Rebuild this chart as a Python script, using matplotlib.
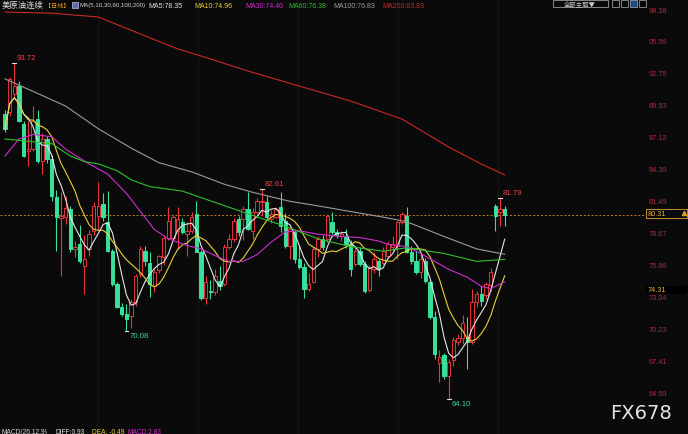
import matplotlib
matplotlib.use("Agg")
import matplotlib.pyplot as plt
import matplotlib.transforms as mtransforms
from matplotlib.patches import Rectangle
import pandas as pd

# daily candles (open, high, low, close), oldest first
opens = [89.2, 89.4, 91.0, 91.7, 88.3, 85.9, 86.1, 88.8, 85.1, 87.0,
         85.2, 81.9, 80.0, 80.1, 80.8, 77.3, 77.7, 75.8, 77.3, 78.9,
         80.2, 81.3, 79.7, 77.1, 74.2, 72.2, 71.6, 71.4, 72.6, 75.1,
         77.1, 76.1, 74.0, 75.4, 76.6, 78.3, 78.3, 78.9, 79.7, 78.6,
         78.9, 80.4, 77.0, 73.0, 73.6, 73.5, 74.5, 74.2, 77.5, 78.2,
         79.9, 79.9, 80.8, 78.9, 80.6, 81.4, 81.4, 79.9, 80.1, 81.0,
         79.8, 77.6, 78.8, 76.4, 75.7, 73.8, 74.4, 77.3, 78.2, 78.2,
         79.7, 78.8, 78.4, 78.4, 77.7, 76.0, 77.1, 76.0, 73.7, 75.5,
         76.2, 76.1, 76.7, 77.5, 77.6, 79.7, 80.2, 77.0, 76.2, 75.3,
         76.2, 74.4, 71.3, 67.2, 67.9, 66.1, 67.5, 69.1, 69.4, 69.5,
         69.1, 72.6, 73.3, 73.2, 74.1, 81.1, 80.6, 80.8]
highs = [89.6, 92.5, 93.72, 92.1, 88.6, 88.6, 89.9, 89.6, 87.5, 87.3,
         85.6, 82.5, 82.3, 82.0, 81.1, 78.0, 79.4, 78.5, 79.0, 81.4,
         83.2, 82.2, 82.4, 77.3, 74.4, 72.5, 72.4, 72.9, 75.1, 77.6,
         77.6, 77.0, 75.5, 76.8, 78.5, 81.0, 80.3, 81.0, 80.0, 79.7,
         80.6, 81.5, 77.2, 74.9, 74.6, 75.5, 75.8, 77.7, 78.6, 80.0,
         80.2, 81.1, 82.3, 80.9, 81.8, 82.61, 82.0, 80.7, 81.0, 82.3,
         80.5, 79.3, 79.0, 77.6, 76.1, 75.2, 77.5, 78.4, 78.5, 80.4,
         80.6, 79.1, 78.9, 79.1, 78.1, 77.6, 77.5, 76.2, 75.9, 77.0,
         76.4, 77.5, 78.0, 78.4, 79.8, 80.6, 81.0, 77.6, 77.2, 76.9,
         76.5, 74.6, 71.8, 68.4, 68.1, 67.6, 69.5, 69.8, 71.5, 71.3,
         73.8, 73.6, 74.0, 74.4, 75.6, 81.3, 81.79, 81.1]
lows = [87.6, 89.0, 90.6, 88.5, 85.4, 84.6, 85.9, 84.9, 83.9, 84.9,
        81.5, 77.1, 74.9, 79.5, 77.0, 76.6, 76.1, 73.3, 76.7, 78.5,
        79.0, 79.8, 77.0, 74.0, 72.1, 71.4, 70.08, 70.3, 72.3, 74.8,
        75.8, 73.1, 73.5, 75.2, 75.9, 78.1, 78.1, 77.3, 78.6, 76.7,
        78.7, 77.0, 72.8, 72.4, 72.9, 73.2, 73.7, 74.0, 77.3, 77.9,
        78.4, 78.1, 79.0, 78.2, 80.4, 80.2, 79.9, 79.6, 80.0, 78.8,
        77.4, 76.4, 76.1, 75.5, 73.0, 73.6, 74.3, 76.6, 77.2, 77.9,
        78.6, 78.3, 78.0, 77.4, 74.9, 75.8, 75.8, 73.4, 73.5, 75.2,
        74.9, 75.9, 76.5, 77.1, 76.4, 79.5, 76.9, 76.0, 75.1, 74.7,
        74.3, 71.1, 67.6, 65.6, 65.8, 64.10, 67.0, 68.8, 68.9, 66.7,
        68.9, 72.2, 72.3, 72.9, 73.6, 78.9, 79.3, 79.3]
closes = [87.9, 92.3, 91.7, 88.6, 85.5, 86.1, 88.6, 85.1, 87.0, 85.2,
          82.0, 80.1, 80.2, 80.9, 77.3, 77.5, 76.2, 76.4, 78.6, 81.1,
          81.1, 80.1, 77.1, 74.2, 72.2, 71.6, 71.1, 72.6, 74.9, 77.3,
          76.2, 74.2, 75.3, 76.7, 78.3, 79.8, 80.1, 79.9, 78.8, 78.9,
          80.1, 77.0, 73.0, 74.4, 73.5, 74.9, 74.0, 77.5, 78.2, 79.8,
          78.8, 80.8, 79.1, 80.6, 81.5, 81.5, 80.1, 80.4, 80.8, 79.3,
          77.6, 79.1, 76.4, 75.7, 73.8, 74.2, 77.3, 78.2, 77.5, 80.2,
          78.8, 78.5, 78.6, 77.7, 75.5, 77.1, 76.0, 73.6, 75.6, 76.4,
          75.5, 77.1, 77.7, 77.7, 79.7, 80.4, 77.0, 76.2, 75.3, 76.4,
          74.5, 71.3, 68.0, 67.8, 66.1, 67.3, 69.3, 69.4, 70.8, 69.1,
          72.6, 73.3, 72.7, 74.2, 75.3, 80.2, 80.8, 80.31]

# longer moving averages (candle index, value)
ma30_idx = [0, 3, 6, 10, 13, 18, 22, 26, 29, 32, 35, 39, 42, 45, 48, 51, 54,
            57, 60, 63, 67, 72, 76, 80, 82, 86, 89, 92, 95, 99, 102, 104, 107]
ma30_val = [85.5, 87.0, 87.4, 87.2, 86.1, 84.8, 83.9, 82.2, 80.6, 79.0, 78.2,
            77.6, 77.3, 76.7, 76.2, 76.2, 76.8, 77.9, 78.8, 78.9, 78.6, 78.4,
            78.3, 78.0, 77.7, 77.5, 76.9, 76.2, 75.5, 74.8, 74.0, 73.8, 74.4]
ma60_idx = [0, 5, 10, 14, 17, 20, 24, 27, 31, 38, 45, 52, 60, 67, 74, 81,
            86, 94, 101, 107]
ma60_val = [87.0, 86.8, 86.6, 85.5, 85.0, 84.8, 84.2, 83.4, 82.8, 82.4, 81.4,
            80.4, 79.3, 78.2, 77.5, 77.1, 77.4, 76.9, 76.2, 76.38]
ma100_idx = [0, 6, 13, 20, 27, 33, 40, 47, 53, 61, 67, 74, 81, 86, 94, 101, 107]
ma100_val = [92.3, 91.2, 89.9, 87.9, 86.2, 84.9, 84.1, 83.0, 82.3, 81.5, 81.1,
             80.6, 80.1, 79.7, 78.4, 77.3, 76.83]
ma200_idx = [0, 10, 20, 29, 37, 42, 52, 63, 74, 85, 95, 102, 107]
ma200_val = [98.2, 98.1, 97.76, 96.26, 94.94, 94.32, 93.0, 91.67, 90.35,
             88.76, 86.29, 84.79, 83.83]

price_ticks = ["98.38", "95.56", "92.75", "89.93", "87.12", "84.30", "81.49",
               "78.67", "75.86", "73.04", "70.23", "67.41", "64.50"]
last_price = 80.31
cross_price = 74.31
high_marks = [(2, 93.72), (55, 82.61), (106, 81.79)]
low_marks = [(26, 70.08), (95, 64.10)]

legend_items = [("MA5:78.35", "#e6e6e6"), ("MA10:74.96", "#e8d038"),
                ("MA30:74.40", "#d02cd0"), ("MA60:76.38", "#2ec02e"),
                ("MA100:76.83", "#9a9a9a"), ("MA200:83.83", "#c82828")]

BG = "#0a0a0a"
UP = "#e8343c"
DOWN = "#38e09c"
W, H = 688, 435
FONT = ["Liberation Sans", "Noto Sans CJK SC", "DejaVu Sans"]
plt.rcParams["font.family"] = FONT

fig = plt.figure(figsize=(W / 100, H / 100), dpi=100, facecolor=BG)
ax = fig.add_axes([0, 0, 1, 1], facecolor=BG)
ax.set_axis_off()

# pixel layout: candle 0 at x=5px, step 4.67px; 98.38 at y=11px, 64.50 at y=395px
step = 4.67
ppu = 384 / (98.38 - 64.50)
ax.set_xlim(-5 / step, (W - 5) / step)
ax.set_ylim(98.38 - (H - 11) / ppu, 98.38 + 11 / ppu)

def px(x, y):
    return x / W, 1 - y / H

# faint vertical grid
for gx in [98, 198, 298, 398, 498]:
    ax.axvline((gx - 5) / step, color="#161616", lw=0.6, zorder=0)

# candles
bw = 0.72
for i in range(len(closes)):
    o, h, l, c = opens[i], highs[i], lows[i], closes[i]
    col = UP if c >= o else DOWN
    ax.vlines(i, l, h, color=col, lw=0.8, zorder=2)
    lo, hi = min(o, c), max(o, c)
    if hi - lo < 0.06:
        hi = lo + 0.06
    face = BG if c >= o else DOWN
    ax.add_patch(Rectangle((i - bw / 2, lo), bw, hi - lo, facecolor=face,
                           edgecolor=col, lw=0.7, zorder=3))

# moving averages
s = pd.Series(closes)
ma5 = s.rolling(5, min_periods=1).mean()
ma10 = s.rolling(10, min_periods=1).mean()
ax.plot(range(len(closes)), ma5, color=legend_items[0][1], lw=0.8, zorder=4)
ax.plot(range(len(closes)), ma10, color=legend_items[1][1], lw=0.8, zorder=4)
ax.plot(ma30_idx, ma30_val, color=legend_items[2][1], lw=0.8, zorder=4)
ax.plot(ma60_idx, ma60_val, color=legend_items[3][1], lw=0.8, zorder=4)
ax.plot(ma100_idx, ma100_val, color=legend_items[4][1], lw=0.8, zorder=4)
ax.plot(ma200_idx, ma200_val, color=legend_items[5][1], lw=0.8, zorder=4)

# last price dashed line
ax.axhline(last_price, xmin=0, xmax=645 / W, color="#c87a22", lw=0.7,
           ls=(0, (2, 2)), zorder=1)

# high / low markers
for i, v in high_marks:
    ax.plot([i - 0.4, i + 0.4], [v, v], color="#dddddd", lw=0.8, zorder=5)
    ax.text(i + 0.5, v + 0.15, f"{v:.2f}", color="#e8404c", fontsize=5.6,
            ha="left", va="bottom", zorder=6)
for i, v in low_marks:
    ax.plot([i - 0.4, i + 0.4], [v, v], color="#dddddd", lw=0.8, zorder=5)
    ax.text(i + 0.7, v - 0.1, f"{v:.2f}", color="#3ad89a", fontsize=5.6,
            ha="left", va="top", zorder=6)

# right price axis
trans = mtransforms.blended_transform_factory(ax.transAxes, ax.transData)
for lab in price_ticks:
    ax.text(649 / W, float(lab), lab, color="#a82c3c", fontsize=5.3,
            ha="left", va="center", transform=trans)
ax.add_patch(Rectangle((646 / W, last_price - 0.3), 41 / W, 9 / ppu,
                       transform=trans, fc=BG, ec="#c8902c", lw=0.7, zorder=6))
ax.text(648 / W, last_price + 0.1, f"{last_price:.2f}", color="#e0a848",
        fontsize=5.3, ha="left", va="center", transform=trans, zorder=7)
ax.add_patch(Rectangle((646 / W, cross_price - 0.95), 41 / W, 8 / ppu,
                       transform=trans, fc="#000000", ec="none", zorder=6))
ax.text(648 / W, cross_price - 0.6, f"{cross_price:.2f}", color="#e8b040",
        fontsize=5.3, ha="left", va="center", transform=trans, zorder=7)
ax.plot([684 / W], [last_price + 0.2], marker="^", ms=3, color="#e0a020",
        transform=trans, clip_on=False, zorder=8)

# title line
fig.text(*px(2, 6), "美原油连续", color="#e0e0e0", fontsize=6.0, va="center")
fig.text(*px(45, 6), "【日线】", color="#e8a020", fontsize=4.4, va="center")
fig.patches.append(Rectangle(px(72, 9), 6 / W, 6 / H, transform=fig.transFigure,
                             fc="#6a6ab0", ec="#c0c0e0", lw=0.5))
fig.text(*px(80, 6), "MA(5,10,30,60,100,200)", color="#d0d0d0", fontsize=4.4,
         va="center")
lx = [148, 194, 245, 288, 333, 382]
for (txt, col), x in zip(legend_items, lx):
    fig.text(*px(x, 6), txt, color=col, fontsize=5.0, va="center")

# toolbar at top right
fig.patches.append(Rectangle(px(553, 8), 55 / W, 7 / H, transform=fig.transFigure,
                             fc=BG, ec="#9a9a9a", lw=0.6))
fig.text(*px(580, 4.5), "全部主题▼", color="#c8c8c8", fontsize=4.6, ha="center",
         va="center", family=["Noto Sans CJK SC", "DejaVu Sans"])
for k, bx in enumerate([612, 621, 630, 639]):
    fig.patches.append(Rectangle(px(bx, 8), 7 / W, 7 / H,
                                 transform=fig.transFigure,
                                 fc="#1a4a8a" if k == 2 else BG,
                                 ec="#b0b0b0", lw=0.5))

# MACD panel header at the bottom edge
fig.text(*px(1, 429), "MACD(26,12,9)", color="#d8d8d8", fontsize=4.8, va="top")
fig.text(*px(55, 429), "DIFF:0.93", color="#e6e6e6", fontsize=4.8, va="top")
fig.text(*px(92, 429), "DEA: -0.49", color="#e8d038", fontsize=4.8, va="top")
fig.text(*px(128, 429), "MACD:2.83", color="#d02cd0", fontsize=4.8, va="top")

# watermark
fig.text(*px(641, 414), "FX678", color="#e4e4e4", fontsize=14, ha="center",
         va="center", family=["DejaVu Sans"])

fig.savefig("out.png", dpi=100, facecolor=BG)
